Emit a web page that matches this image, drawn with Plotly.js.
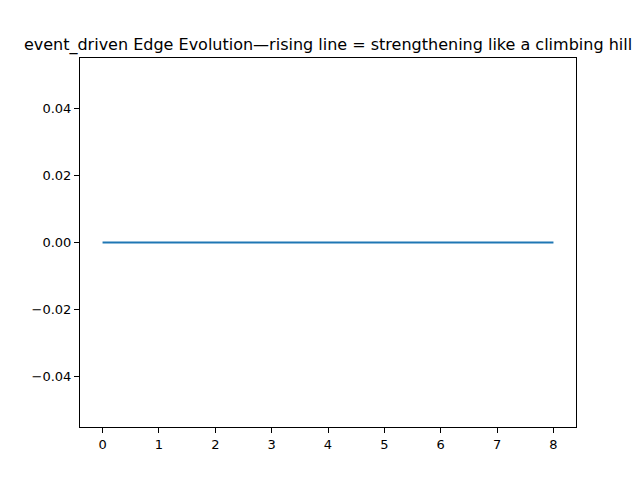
<!DOCTYPE html>
<html>
<head>
<meta charset="utf-8">
<script src="https://cdn.plot.ly/plotly-3.0.1.min.js"></script>
<style>body{margin:0}#chart{width:640px;height:480px}</style>
</head>
<body>
<div id="chart"></div>
<script>
const steps = [0, 1, 2, 3, 4, 5, 6, 7, 8];
const weights = [0, 0, 0, 0, 0, 0, 0, 0, 0];
const yTicks = [-0.04, -0.02, 0, 0.02, 0.04];

const axisStyle = {
  showgrid: false, zeroline: false, showline: true, mirror: true,
  linecolor: 'black', linewidth: 1, ticks: 'outside', ticklen: 5,
  tickcolor: 'black', tickfont: { family: 'DejaVu Sans', size: 13, color: 'black' }
};

Plotly.newPlot('chart', [{
  x: steps, y: weights, type: 'scatter', mode: 'lines',
  line: { color: '#1f77b4', width: 2 }
}], {
  width: 640, height: 480,
  margin: { l: 80, r: 64, t: 58, b: 53 },
  paper_bgcolor: 'white', plot_bgcolor: 'white',
  showlegend: false,
  title: {
    text: 'event_driven Edge Evolution—rising line = strengthening like a climbing hill',
    font: { family: 'DejaVu Sans', size: 16, color: 'black' },
    x: 328 / 640, xanchor: 'center', y: 1 - 44 / 480, yanchor: 'middle'
  },
  xaxis: Object.assign({}, axisStyle, { range: [-0.4, 8.4], tickvals: steps }),
  yaxis: Object.assign({}, axisStyle, { range: [-0.055, 0.055], tickvals: yTicks, tickformat: '.2f' })
}, { displayModeBar: false });
</script>
</body>
</html>
